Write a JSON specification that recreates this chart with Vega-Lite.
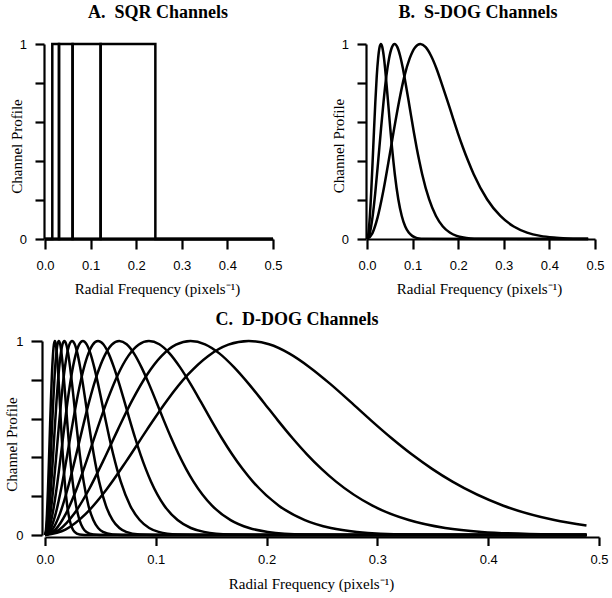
{
  "$schema": "https://vega.github.io/schema/vega-lite/v6.json",
  "background": "white",
  "padding": {"left": 4, "top": 4, "right": 2, "bottom": 2},
  "bounds": "flush",
  "spacing": 297,
  "config": {
    "view": {"stroke": null},
    "font": "Liberation Serif",
    "axis": {
      "domainColor": "black", "domainWidth": 2.2, "tickColor": "black", "tickWidth": 2.2,
      "labelFont": "Liberation Sans", "labelFontSize": 13, "labelColor": "black",
      "titleFont": "Liberation Serif", "titleFontSize": 15, "titleFontWeight": "normal", "titleColor": "black",
      "grid": false, "labelFlush": false, "labelOverlap": false
    },
    "title": {"font": "Liberation Serif", "fontSize": 18, "fontWeight": "bold", "color": "black", "anchor": "middle", "frame": "group", "offset": 16}
  },
  "datasets": {
    "sqr": [
      {"c":1,"i":0,"f":0,"v":0},{"c":1,"i":1,"f":0.016,"v":0},{"c":1,"i":2,"f":0.016,"v":1},{"c":1,"i":3,"f":0.0307,"v":1},{"c":1,"i":4,"f":0.0307,"v":0},{"c":1,"i":5,"f":0.5,"v":0},
      {"c":2,"i":0,"f":0,"v":0},{"c":2,"i":1,"f":0.0307,"v":0},{"c":2,"i":2,"f":0.0307,"v":1},{"c":2,"i":3,"f":0.0605,"v":1},{"c":2,"i":4,"f":0.0605,"v":0},{"c":2,"i":5,"f":0.5,"v":0},
      {"c":3,"i":0,"f":0,"v":0},{"c":3,"i":1,"f":0.0605,"v":0},{"c":3,"i":2,"f":0.0605,"v":1},{"c":3,"i":3,"f":0.122,"v":1},{"c":3,"i":4,"f":0.122,"v":0},{"c":3,"i":5,"f":0.5,"v":0},
      {"c":4,"i":0,"f":0,"v":0},{"c":4,"i":1,"f":0.122,"v":0},{"c":4,"i":2,"f":0.122,"v":1},{"c":4,"i":3,"f":0.242,"v":1},{"c":4,"i":4,"f":0.242,"v":0},{"c":4,"i":5,"f":0.5,"v":0}
    ],
    "sdog": [
      {"c":1,"f":0,"v":0},{"c":1,"f":0.00305,"v":0.029},{"c":1,"f":0.0061,"v":0.112},{"c":1,"f":0.00915,"v":0.238},{"c":1,"f":0.0122,"v":0.391},{"c":1,"f":0.01525,"v":0.552},{"c":1,"f":0.0183,"v":0.704},{"c":1,"f":0.02135,"v":0.834},{"c":1,"f":0.0244,"v":0.926},{"c":1,"f":0.02745,"v":0.982},{"c":1,"f":0.0305,"v":1},{"c":1,"f":0.03355,"v":0.984},{"c":1,"f":0.0366,"v":0.94},{"c":1,"f":0.03965,"v":0.876},{"c":1,"f":0.0427,"v":0.797},{"c":1,"f":0.04575,"v":0.715},{"c":1,"f":0.0488,"v":0.63},{"c":1,"f":0.05185,"v":0.546},{"c":1,"f":0.0549,"v":0.468},{"c":1,"f":0.05795,"v":0.397},{"c":1,"f":0.061,"v":0.332},{"c":1,"f":0.06863,"v":0.204},{"c":1,"f":0.07625,"v":0.118},{"c":1,"f":0.08388,"v":0.064},{"c":1,"f":0.0915,"v":0.033},{"c":1,"f":0.09913,"v":0.016},{"c":1,"f":0.10675,"v":0.0074},{"c":1,"f":0.11438,"v":0.0032},{"c":1,"f":0.122,"v":0.0013},{"c":1,"f":0.485,"v":0},
      {"c":2,"f":0,"v":0},{"c":2,"f":0.00605,"v":0.029},{"c":2,"f":0.0121,"v":0.112},{"c":2,"f":0.01815,"v":0.238},{"c":2,"f":0.0242,"v":0.391},{"c":2,"f":0.03025,"v":0.552},{"c":2,"f":0.0363,"v":0.704},{"c":2,"f":0.04235,"v":0.834},{"c":2,"f":0.0484,"v":0.926},{"c":2,"f":0.05445,"v":0.982},{"c":2,"f":0.0605,"v":1},{"c":2,"f":0.06655,"v":0.984},{"c":2,"f":0.0726,"v":0.94},{"c":2,"f":0.07865,"v":0.876},{"c":2,"f":0.0847,"v":0.797},{"c":2,"f":0.09075,"v":0.715},{"c":2,"f":0.0968,"v":0.63},{"c":2,"f":0.10285,"v":0.546},{"c":2,"f":0.1089,"v":0.468},{"c":2,"f":0.11495,"v":0.397},{"c":2,"f":0.121,"v":0.332},{"c":2,"f":0.13613,"v":0.204},{"c":2,"f":0.15125,"v":0.118},{"c":2,"f":0.16638,"v":0.064},{"c":2,"f":0.1815,"v":0.033},{"c":2,"f":0.19663,"v":0.016},{"c":2,"f":0.21175,"v":0.0074},{"c":2,"f":0.22688,"v":0.0032},{"c":2,"f":0.242,"v":0.0013},{"c":2,"f":0.485,"v":0},
      {"c":3,"f":0,"v":0},{"c":3,"f":0.0117,"v":0.029},{"c":3,"f":0.0234,"v":0.112},{"c":3,"f":0.0351,"v":0.238},{"c":3,"f":0.0468,"v":0.391},{"c":3,"f":0.0585,"v":0.552},{"c":3,"f":0.0702,"v":0.704},{"c":3,"f":0.0819,"v":0.834},{"c":3,"f":0.0936,"v":0.926},{"c":3,"f":0.1053,"v":0.982},{"c":3,"f":0.117,"v":1},{"c":3,"f":0.1287,"v":0.984},{"c":3,"f":0.1404,"v":0.94},{"c":3,"f":0.1521,"v":0.876},{"c":3,"f":0.1638,"v":0.797},{"c":3,"f":0.1755,"v":0.715},{"c":3,"f":0.1872,"v":0.63},{"c":3,"f":0.1989,"v":0.546},{"c":3,"f":0.2106,"v":0.468},{"c":3,"f":0.2223,"v":0.397},{"c":3,"f":0.234,"v":0.332},{"c":3,"f":0.26325,"v":0.204},{"c":3,"f":0.2925,"v":0.118},{"c":3,"f":0.32175,"v":0.064},{"c":3,"f":0.351,"v":0.033},{"c":3,"f":0.38025,"v":0.016},{"c":3,"f":0.4095,"v":0.0074},{"c":3,"f":0.43875,"v":0.0032},{"c":3,"f":0.468,"v":0.0013},{"c":3,"f":0.485,"v":0.0008}
    ],
    "ddog": [
      {"c":0,"f":0,"v":0},{"c":0,"f":0.00089,"v":0.028},{"c":0,"f":0.00178,"v":0.109},{"c":0,"f":0.00267,"v":0.232},{"c":0,"f":0.00356,"v":0.382},{"c":0,"f":0.00445,"v":0.542},{"c":0,"f":0.00534,"v":0.695},{"c":0,"f":0.00623,"v":0.825},{"c":0,"f":0.00712,"v":0.922},{"c":0,"f":0.00801,"v":0.981},{"c":0,"f":0.0089,"v":1},{"c":0,"f":0.00979,"v":0.983},{"c":0,"f":0.01068,"v":0.935},{"c":0,"f":0.01157,"v":0.864},{"c":0,"f":0.01246,"v":0.779},{"c":0,"f":0.01335,"v":0.686},{"c":0,"f":0.01424,"v":0.591},{"c":0,"f":0.01513,"v":0.5},{"c":0,"f":0.01602,"v":0.416},{"c":0,"f":0.01691,"v":0.341},{"c":0,"f":0.0178,"v":0.275},{"c":0,"f":0.02003,"v":0.151},{"c":0,"f":0.02225,"v":0.077},{"c":0,"f":0.02448,"v":0.036},{"c":0,"f":0.0267,"v":0.016},{"c":0,"f":0.03115,"v":0.0025},{"c":0,"f":0.0356,"v":0.0003},{"c":0,"f":0.4887,"v":0},
      {"c":1,"f":0,"v":0},{"c":1,"f":0.00125,"v":0.028},{"c":1,"f":0.00249,"v":0.109},{"c":1,"f":0.00374,"v":0.232},{"c":1,"f":0.00498,"v":0.382},{"c":1,"f":0.00623,"v":0.542},{"c":1,"f":0.00748,"v":0.695},{"c":1,"f":0.00872,"v":0.825},{"c":1,"f":0.00997,"v":0.922},{"c":1,"f":0.01121,"v":0.981},{"c":1,"f":0.01246,"v":1},{"c":1,"f":0.01371,"v":0.983},{"c":1,"f":0.01495,"v":0.935},{"c":1,"f":0.0162,"v":0.864},{"c":1,"f":0.01744,"v":0.779},{"c":1,"f":0.01869,"v":0.686},{"c":1,"f":0.01994,"v":0.591},{"c":1,"f":0.02118,"v":0.5},{"c":1,"f":0.02243,"v":0.416},{"c":1,"f":0.02367,"v":0.341},{"c":1,"f":0.02492,"v":0.275},{"c":1,"f":0.02804,"v":0.151},{"c":1,"f":0.03115,"v":0.077},{"c":1,"f":0.03427,"v":0.036},{"c":1,"f":0.03738,"v":0.016},{"c":1,"f":0.04361,"v":0.0025},{"c":1,"f":0.04984,"v":0.0003},{"c":1,"f":0.4887,"v":0},
      {"c":2,"f":0,"v":0},{"c":2,"f":0.00174,"v":0.028},{"c":2,"f":0.00349,"v":0.109},{"c":2,"f":0.00523,"v":0.232},{"c":2,"f":0.00698,"v":0.382},{"c":2,"f":0.00872,"v":0.542},{"c":2,"f":0.01046,"v":0.695},{"c":2,"f":0.01221,"v":0.825},{"c":2,"f":0.01395,"v":0.922},{"c":2,"f":0.0157,"v":0.981},{"c":2,"f":0.01744,"v":1},{"c":2,"f":0.01918,"v":0.983},{"c":2,"f":0.02093,"v":0.935},{"c":2,"f":0.02267,"v":0.864},{"c":2,"f":0.02442,"v":0.779},{"c":2,"f":0.02616,"v":0.686},{"c":2,"f":0.0279,"v":0.591},{"c":2,"f":0.02965,"v":0.5},{"c":2,"f":0.03139,"v":0.416},{"c":2,"f":0.03314,"v":0.341},{"c":2,"f":0.03488,"v":0.275},{"c":2,"f":0.03924,"v":0.151},{"c":2,"f":0.0436,"v":0.077},{"c":2,"f":0.04796,"v":0.036},{"c":2,"f":0.05232,"v":0.016},{"c":2,"f":0.06104,"v":0.0025},{"c":2,"f":0.06976,"v":0.0003},{"c":2,"f":0.4887,"v":0},
      {"c":3,"f":0,"v":0},{"c":3,"f":0.00244,"v":0.028},{"c":3,"f":0.00488,"v":0.109},{"c":3,"f":0.00733,"v":0.232},{"c":3,"f":0.00977,"v":0.382},{"c":3,"f":0.01221,"v":0.542},{"c":3,"f":0.01465,"v":0.695},{"c":3,"f":0.01709,"v":0.825},{"c":3,"f":0.01954,"v":0.922},{"c":3,"f":0.02198,"v":0.981},{"c":3,"f":0.02442,"v":1},{"c":3,"f":0.02686,"v":0.983},{"c":3,"f":0.0293,"v":0.935},{"c":3,"f":0.03175,"v":0.864},{"c":3,"f":0.03419,"v":0.779},{"c":3,"f":0.03663,"v":0.686},{"c":3,"f":0.03907,"v":0.591},{"c":3,"f":0.04151,"v":0.5},{"c":3,"f":0.04396,"v":0.416},{"c":3,"f":0.0464,"v":0.341},{"c":3,"f":0.04884,"v":0.275},{"c":3,"f":0.05495,"v":0.151},{"c":3,"f":0.06105,"v":0.077},{"c":3,"f":0.06716,"v":0.036},{"c":3,"f":0.07326,"v":0.016},{"c":3,"f":0.08547,"v":0.0025},{"c":3,"f":0.09768,"v":0.0003},{"c":3,"f":0.4887,"v":0},
      {"c":4,"f":0,"v":0},{"c":4,"f":0.00342,"v":0.028},{"c":4,"f":0.00684,"v":0.109},{"c":4,"f":0.01026,"v":0.232},{"c":4,"f":0.01368,"v":0.382},{"c":4,"f":0.0171,"v":0.542},{"c":4,"f":0.02051,"v":0.695},{"c":4,"f":0.02393,"v":0.825},{"c":4,"f":0.02735,"v":0.922},{"c":4,"f":0.03077,"v":0.981},{"c":4,"f":0.03419,"v":1},{"c":4,"f":0.03761,"v":0.983},{"c":4,"f":0.04103,"v":0.935},{"c":4,"f":0.04445,"v":0.864},{"c":4,"f":0.04787,"v":0.779},{"c":4,"f":0.05129,"v":0.686},{"c":4,"f":0.0547,"v":0.591},{"c":4,"f":0.05812,"v":0.5},{"c":4,"f":0.06154,"v":0.416},{"c":4,"f":0.06496,"v":0.341},{"c":4,"f":0.06838,"v":0.275},{"c":4,"f":0.07693,"v":0.151},{"c":4,"f":0.08548,"v":0.077},{"c":4,"f":0.09402,"v":0.036},{"c":4,"f":0.10257,"v":0.016},{"c":4,"f":0.11967,"v":0.0025},{"c":4,"f":0.13676,"v":0.0003},{"c":4,"f":0.4887,"v":0},
      {"c":5,"f":0,"v":0},{"c":5,"f":0.00479,"v":0.028},{"c":5,"f":0.00957,"v":0.109},{"c":5,"f":0.01436,"v":0.232},{"c":5,"f":0.01914,"v":0.382},{"c":5,"f":0.02393,"v":0.542},{"c":5,"f":0.02872,"v":0.695},{"c":5,"f":0.0335,"v":0.825},{"c":5,"f":0.03829,"v":0.922},{"c":5,"f":0.04307,"v":0.981},{"c":5,"f":0.04786,"v":1},{"c":5,"f":0.05265,"v":0.983},{"c":5,"f":0.05743,"v":0.935},{"c":5,"f":0.06222,"v":0.864},{"c":5,"f":0.067,"v":0.779},{"c":5,"f":0.07179,"v":0.686},{"c":5,"f":0.07658,"v":0.591},{"c":5,"f":0.08136,"v":0.5},{"c":5,"f":0.08615,"v":0.416},{"c":5,"f":0.09093,"v":0.341},{"c":5,"f":0.09572,"v":0.275},{"c":5,"f":0.10769,"v":0.151},{"c":5,"f":0.11965,"v":0.077},{"c":5,"f":0.13162,"v":0.036},{"c":5,"f":0.14358,"v":0.016},{"c":5,"f":0.16751,"v":0.0025},{"c":5,"f":0.19144,"v":0.0003},{"c":5,"f":0.4887,"v":0},
      {"c":6,"f":0,"v":0},{"c":6,"f":0.0067,"v":0.028},{"c":6,"f":0.0134,"v":0.109},{"c":6,"f":0.0201,"v":0.232},{"c":6,"f":0.0268,"v":0.382},{"c":6,"f":0.03351,"v":0.542},{"c":6,"f":0.04021,"v":0.695},{"c":6,"f":0.04691,"v":0.825},{"c":6,"f":0.05361,"v":0.922},{"c":6,"f":0.06031,"v":0.981},{"c":6,"f":0.06701,"v":1},{"c":6,"f":0.07371,"v":0.983},{"c":6,"f":0.08041,"v":0.935},{"c":6,"f":0.08711,"v":0.864},{"c":6,"f":0.09381,"v":0.779},{"c":6,"f":0.10052,"v":0.686},{"c":6,"f":0.10722,"v":0.591},{"c":6,"f":0.11392,"v":0.5},{"c":6,"f":0.12062,"v":0.416},{"c":6,"f":0.12732,"v":0.341},{"c":6,"f":0.13402,"v":0.275},{"c":6,"f":0.15077,"v":0.151},{"c":6,"f":0.16753,"v":0.077},{"c":6,"f":0.18428,"v":0.036},{"c":6,"f":0.20103,"v":0.016},{"c":6,"f":0.23454,"v":0.0025},{"c":6,"f":0.26804,"v":0.0003},{"c":6,"f":0.4887,"v":0},
      {"c":7,"f":0,"v":0},{"c":7,"f":0.00938,"v":0.028},{"c":7,"f":0.01876,"v":0.109},{"c":7,"f":0.02814,"v":0.232},{"c":7,"f":0.03752,"v":0.382},{"c":7,"f":0.04691,"v":0.542},{"c":7,"f":0.05629,"v":0.695},{"c":7,"f":0.06567,"v":0.825},{"c":7,"f":0.07505,"v":0.922},{"c":7,"f":0.08443,"v":0.981},{"c":7,"f":0.09381,"v":1},{"c":7,"f":0.10319,"v":0.983},{"c":7,"f":0.11257,"v":0.935},{"c":7,"f":0.12195,"v":0.864},{"c":7,"f":0.13133,"v":0.779},{"c":7,"f":0.14072,"v":0.686},{"c":7,"f":0.1501,"v":0.591},{"c":7,"f":0.15948,"v":0.5},{"c":7,"f":0.16886,"v":0.416},{"c":7,"f":0.17824,"v":0.341},{"c":7,"f":0.18762,"v":0.275},{"c":7,"f":0.21107,"v":0.151},{"c":7,"f":0.23453,"v":0.077},{"c":7,"f":0.25798,"v":0.036},{"c":7,"f":0.28143,"v":0.016},{"c":7,"f":0.32834,"v":0.0025},{"c":7,"f":0.37524,"v":0.0003},{"c":7,"f":0.4887,"v":0},
      {"c":8,"f":0,"v":0},{"c":8,"f":0.01313,"v":0.028},{"c":8,"f":0.02627,"v":0.109},{"c":8,"f":0.0394,"v":0.232},{"c":8,"f":0.05254,"v":0.382},{"c":8,"f":0.06567,"v":0.542},{"c":8,"f":0.0788,"v":0.695},{"c":8,"f":0.09194,"v":0.825},{"c":8,"f":0.10507,"v":0.922},{"c":8,"f":0.11821,"v":0.981},{"c":8,"f":0.13134,"v":1},{"c":8,"f":0.14447,"v":0.983},{"c":8,"f":0.15761,"v":0.935},{"c":8,"f":0.17074,"v":0.864},{"c":8,"f":0.18388,"v":0.779},{"c":8,"f":0.19701,"v":0.686},{"c":8,"f":0.21014,"v":0.591},{"c":8,"f":0.22328,"v":0.5},{"c":8,"f":0.23641,"v":0.416},{"c":8,"f":0.24955,"v":0.341},{"c":8,"f":0.26268,"v":0.275},{"c":8,"f":0.29552,"v":0.151},{"c":8,"f":0.32835,"v":0.077},{"c":8,"f":0.36119,"v":0.036},{"c":8,"f":0.39402,"v":0.016},{"c":8,"f":0.45969,"v":0.0025},{"c":8,"f":0.4887,"v":0.001},
      {"c":9,"f":0,"v":0},{"c":9,"f":0.01839,"v":0.028},{"c":9,"f":0.03677,"v":0.109},{"c":9,"f":0.05516,"v":0.232},{"c":9,"f":0.07355,"v":0.382},{"c":9,"f":0.09194,"v":0.542},{"c":9,"f":0.11032,"v":0.695},{"c":9,"f":0.12871,"v":0.825},{"c":9,"f":0.1471,"v":0.922},{"c":9,"f":0.16548,"v":0.981},{"c":9,"f":0.18387,"v":1},{"c":9,"f":0.20226,"v":0.983},{"c":9,"f":0.22064,"v":0.935},{"c":9,"f":0.23903,"v":0.864},{"c":9,"f":0.25742,"v":0.779},{"c":9,"f":0.27581,"v":0.686},{"c":9,"f":0.29419,"v":0.591},{"c":9,"f":0.31258,"v":0.5},{"c":9,"f":0.33097,"v":0.416},{"c":9,"f":0.34935,"v":0.341},{"c":9,"f":0.36774,"v":0.275},{"c":9,"f":0.41371,"v":0.151},{"c":9,"f":0.45968,"v":0.077},{"c":9,"f":0.4887,"v":0.0485}
    ]
  },
  "vconcat": [
    {
      "bounds": "flush",
      "spacing": 94,
      "hconcat": [
        {
          "width": 228, "height": 195,
          "title": {"text": "A.\u2002SQR Channels", "dx": -1},
          "data": {"name": "sqr"},
          "mark": {"type": "line", "color": "black", "strokeWidth": 2.5, "strokeJoin": "miter", "clip": false},
          "encoding": {
            "x": {"field": "f", "type": "quantitative", "scale": {"domain": [0, 0.5], "nice": false, "zero": false},
                  "axis": {"title": "Radial Frequency (pixels\u207B\u00B9)", "values": [0, 0.1, 0.2, 0.3, 0.4, 0.5], "format": ".1f", "tickSize": 10, "labelPadding": 10, "titleX": 112, "titleY": 49, "titleBaseline": "middle", "titleAlign": "center"}},
            "y": {"field": "v", "type": "quantitative", "scale": {"domain": [0, 1], "nice": false},
                  "axis": {"title": "Channel Profile", "values": [0, 0.2, 0.4, 0.6, 0.8, 1], "labelExpr": "datum.value == 0 ? '0' : (datum.value == 1 ? '1' : '')", "offset": 1, "tickSize": 9, "labelPadding": 8.5, "titleX": -28, "titleY": 102, "titleAngle": 270, "titleBaseline": "middle", "titleAlign": "center"}},
            "detail": {"field": "c"},
            "order": {"field": "i"}
          }
        },
        {
          "width": 228, "height": 195,
          "title": {"text": "B.\u2002S-DOG Channels", "dx": -3},
          "data": {"name": "sdog"},
          "mark": {"type": "line", "color": "black", "strokeWidth": 2.5, "interpolate": "monotone"},
          "encoding": {
            "x": {"field": "f", "type": "quantitative", "scale": {"domain": [0, 0.5], "nice": false, "zero": false},
                  "axis": {"title": "Radial Frequency (pixels\u207B\u00B9)", "values": [0, 0.1, 0.2, 0.3, 0.4, 0.5], "format": ".1f", "tickSize": 10, "labelPadding": 10, "titleX": 112, "titleY": 49, "titleBaseline": "middle", "titleAlign": "center"}},
            "y": {"field": "v", "type": "quantitative", "scale": {"domain": [0, 1], "nice": false},
                  "axis": {"title": "Channel Profile", "values": [0, 0.2, 0.4, 0.6, 0.8, 1], "labelExpr": "datum.value == 0 ? '0' : (datum.value == 1 ? '1' : '')", "offset": 1, "tickSize": 9, "labelPadding": 8.5, "titleX": -28, "titleY": 101.5, "titleAngle": 270, "titleBaseline": "middle", "titleAlign": "center"}},
            "detail": {"field": "c"}
          }
        }
      ]
    },
    {
      "width": 554, "height": 194,
      "title": {"text": "C.\u2002D-DOG Channels", "dx": -25, "offset": 6},
      "data": {"name": "ddog"},
      "mark": {"type": "line", "color": "black", "strokeWidth": 2.5, "interpolate": "monotone"},
      "encoding": {
        "x": {"field": "f", "type": "quantitative", "scale": {"domain": [0, 0.5], "nice": false, "zero": false},
              "axis": {"title": "Radial Frequency (pixels\u207B\u00B9)", "values": [0, 0.1, 0.2, 0.3, 0.4, 0.5], "format": ".1f", "offset": 2, "tickSize": 8.5, "labelPadding": 8, "titleX": 266, "titleY": 46, "titleBaseline": "middle", "titleAlign": "center"}},
        "y": {"field": "v", "type": "quantitative", "scale": {"domain": [0, 1], "nice": false},
              "axis": {"title": "Channel Profile", "values": [0, 0.2, 0.4, 0.6, 0.8, 1], "labelExpr": "datum.value == 0 ? '0' : (datum.value == 1 ? '1' : '')", "offset": 3, "tickSize": 11, "labelPadding": 8, "titleX": -31, "titleY": 103, "titleAngle": 270, "titleBaseline": "middle", "titleAlign": "center"}},
        "detail": {"field": "c"}
      }
    }
  ]
}
